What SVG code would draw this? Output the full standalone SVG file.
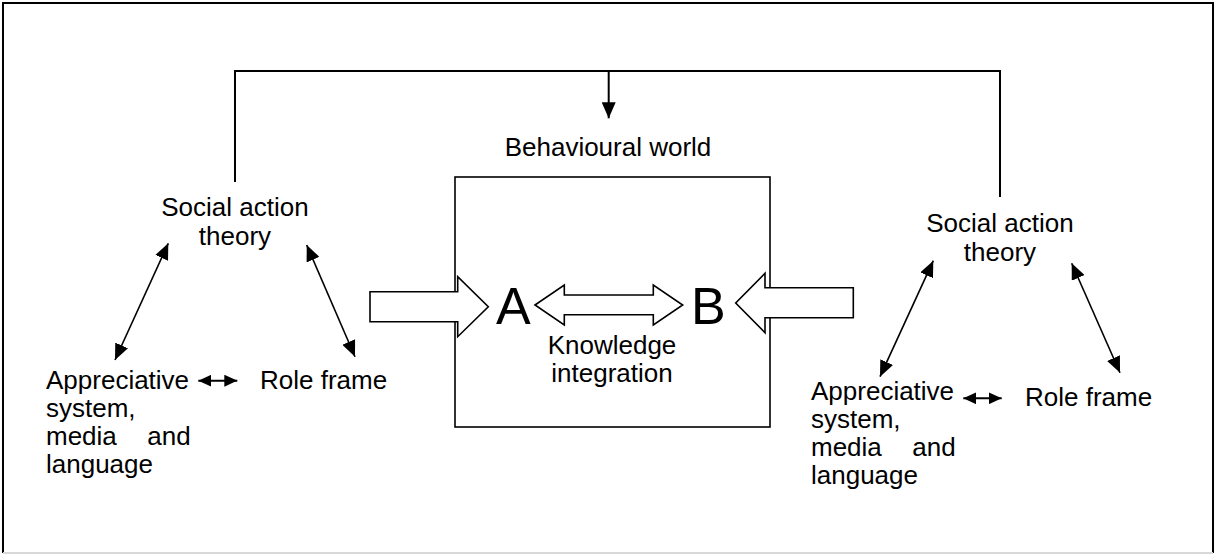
<svg xmlns="http://www.w3.org/2000/svg" width="1215" height="555" viewBox="0 0 1215 555">
<style>
text{font-family:"Liberation Sans",Arial,sans-serif;font-size:26px;fill:#000}
.big{font-size:52px}
.line{fill:none;stroke:#000;stroke-width:1.6}
.thick{fill:none;stroke:#000;stroke-width:2}
.block{fill:#fff;stroke:#000;stroke-width:1.6;stroke-linejoin:miter}
.mid{text-anchor:middle}
</style>
<defs>
<marker id="ah" viewBox="0 0 16 14" refX="16" refY="7" markerWidth="16" markerHeight="14" markerUnits="userSpaceOnUse" orient="auto-start-reverse">
<path d="M0,0 L16,7 L0,14 z" fill="#000"/>
</marker>
<marker id="sm" viewBox="0 0 13 12" refX="13" refY="6" markerWidth="13" markerHeight="12" markerUnits="userSpaceOnUse" orient="auto-start-reverse">
<path d="M0,0 L13,6 L0,12 z" fill="#000"/>
</marker>
</defs>
<rect width="1215" height="555" fill="#fff"/>
<g id="frame">
<path d="M3,553 V3 H1213 V553" fill="none" stroke="#000" stroke-width="2"/>
<line x1="3" y1="553" x2="1213" y2="553" stroke="#d8d8d8" stroke-width="2"/>
</g>
<g id="behavioural-world">
<text class="mid" x="608" y="156">Behavioural world</text>
<rect x="455" y="177" width="315" height="250" class="line"/>
</g>
<g id="connectors">
<path class="thick" d="M235,182 V71 H1000 V197"/>
<line class="thick" x1="608.7" y1="71" x2="608.7" y2="118.3" marker-end="url(#ah)"/>
<line class="line" x1="168.3" y1="243.3" x2="115" y2="360" marker-start="url(#ah)" marker-end="url(#ah)"/>
<line class="line" x1="306.7" y1="245" x2="355" y2="356.7" marker-start="url(#ah)" marker-end="url(#ah)"/>
<line class="thick" x1="198.3" y1="380.7" x2="237.3" y2="380.7" marker-start="url(#sm)" marker-end="url(#sm)"/>
<line class="line" x1="933.3" y1="260.7" x2="880" y2="376.7" marker-start="url(#ah)" marker-end="url(#ah)"/>
<line class="line" x1="1071.7" y1="263.3" x2="1120" y2="372.7" marker-start="url(#ah)" marker-end="url(#ah)"/>
<line class="thick" x1="963.3" y1="398.3" x2="1001.7" y2="398.3" marker-start="url(#sm)" marker-end="url(#sm)"/>
<polygon class="block" points="370,291.7 457.7,291.7 457.7,276.7 488.3,306.7 457.7,336.7 457.7,321.7 370,321.7"/>
<polygon class="block" points="853.3,287.7 765,287.7 765,273.3 735.7,303 765,332.7 765,317.7 853.3,317.7"/>
<polygon class="block" points="535,305 564.3,285 564.3,295 653.3,295 653.3,285 682.7,305 653.3,325 653.3,314.7 564.3,314.7 564.3,325"/>
</g>
<g id="node-a"><text class="big" x="496" y="324.3">A</text></g>
<g id="node-b"><text class="big" x="691" y="324.3">B</text></g>
<g id="knowledge-integration">
<text class="mid" x="612" y="354">Knowledge</text>
<text class="mid" x="612" y="382">integration</text>
</g>
<g id="left-social">
<text class="mid" x="235" y="216">Social action</text>
<text class="mid" x="235" y="245">theory</text>
</g>
<g id="left-appreciative">
<text x="46" y="389">Appreciative</text>
<text x="46" y="417">system,</text>
<text x="46" y="445">media</text>
<text x="190.7" y="445" text-anchor="end">and</text>
<text x="46" y="473">language</text>
</g>
<g id="left-role"><text x="260" y="389">Role frame</text></g>
<g id="right-social">
<text class="mid" x="1000" y="232">Social action</text>
<text class="mid" x="1000" y="261">theory</text>
</g>
<g id="right-appreciative">
<text x="811" y="400">Appreciative</text>
<text x="811" y="428">system,</text>
<text x="811" y="456">media</text>
<text x="955.7" y="456" text-anchor="end">and</text>
<text x="811" y="484">language</text>
</g>
<g id="right-role"><text x="1025" y="406">Role frame</text></g>
</svg>
